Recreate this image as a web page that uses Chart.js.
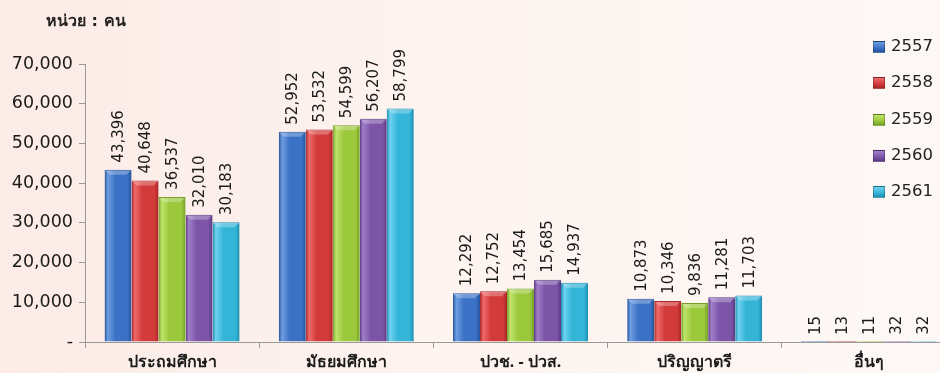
<!DOCTYPE html>
<html>
<head>
<meta charset="utf-8">
<script src="https://cdn.jsdelivr.net/npm/chart.js@4.4.0/dist/chart.umd.min.js"></script>
<style>
  html, body { margin: 0; padding: 0; overflow: hidden; }
  body {
    width: 940px; height: 373px;
    background: linear-gradient(to right, #fcebe6 0%, #fdf3ef 45%, #fdf8f6 100%);
    font-family: "DejaVu Sans", sans-serif;
    position: relative;
  }
  #wrap { position: absolute; left: 0; top: 0; width: 960px; height: 373px; }
  #unit {
    position: absolute; left: 46px; top: 8px;
    font: bold 16px "DejaVu Sans", "Noto Sans", sans-serif; color: #222;
  }
  #legend { position: absolute; left: 873px; top: 36px; }
  .item { height: 36.3px; display: flex; align-items: flex-start; font-size: 16.5px; color: #222; }
  .box { width: 10px; height: 10px; margin: 5px 6px 0 0; border: 1px solid rgba(0,0,0,0.25); }
</style>
</head>
<body>
<div id="wrap"><canvas id="chart" width="960" height="373"></canvas></div>
<div id="unit">หน่วย : คน</div>
<div id="legend"></div>
<script>
// หมวดการศึกษา
const categories = ['ประถมศึกษา', 'มัธยมศึกษา', 'ปวช. - ปวส.', 'ปริญญาตรี', 'อื่นๆ'];
const years = ['2557', '2558', '2559', '2560', '2561'];

// จำนวนคน ต่อปี
const y2557 = [43396, 52952, 12292, 10873, 15];
const y2558 = [40648, 53532, 12752, 10346, 13];
const y2559 = [36537, 54599, 13454, 9836, 11];
const y2560 = [32010, 56207, 15685, 11281, 32];
const y2561 = [30183, 58799, 14937, 11703, 32];

const yTicks = [0, 10000, 20000, 30000, 40000, 50000, 60000, 70000];

const colors = ['#3b72c6', '#d33a3a', '#9cc83c', '#7c55a8', '#34b5d8'];
const darks  = ['#24529a', '#a82626', '#74a02a', '#5a3a82', '#1f8db0'];
const lights = ['#6e9ee0', '#ef6a6a', '#bfe46a', '#a07fc8', '#6fd2ef'];

function barGradient(i) {
    return function(context) {
        const chart = context.chart;
        const el = context.element;
        if (!el || !chart.chartArea || !isFinite(el.x) || !isFinite(el.width)) return colors[i];
        const w = el.width;
        const x0 = el.x - w / 2;
        const g = chart.ctx.createLinearGradient(x0, 0, x0 + w, 0);
        g.addColorStop(0, darks[i]);
        g.addColorStop(0.12, lights[i]);
        g.addColorStop(0.4, colors[i]);
        g.addColorStop(0.85, colors[i]);
        g.addColorStop(1, darks[i]);
        return g;
    };
}

const seriesData = [y2557, y2558, y2559, y2560, y2561];

// ป้ายตัวเลขแนวตั้งเหนือแท่ง + แถบสว่างด้านบนของแท่ง
const valueLabels = {
    id: 'valueLabels',
    afterDatasetsDraw(chart) {
        const ctx = chart.ctx;
        ctx.save();
        chart.data.datasets.forEach((ds, di) => {
            chart.getDatasetMeta(di).data.forEach((bar) => {
                const h = bar.base - bar.y;
                if (h < 6) return;
                const x0 = bar.x - bar.width / 2;
                ctx.fillStyle = 'rgba(255,255,255,0.28)';
                ctx.beginPath();
                ctx.moveTo(x0 + 1, bar.y + 1);
                ctx.lineTo(x0 + bar.width - 1, bar.y + 1);
                ctx.lineTo(x0 + bar.width - 5, bar.y + 5);
                ctx.lineTo(x0 + 5, bar.y + 5);
                ctx.closePath();
                ctx.fill();
            });
        });
        ctx.font = '15px "DejaVu Sans", sans-serif';
        ctx.fillStyle = '#1a1a1a';
        ctx.textAlign = 'left';
        ctx.textBaseline = 'middle';
        chart.data.datasets.forEach((ds, di) => {
            chart.getDatasetMeta(di).data.forEach((bar, i) => {
                ctx.save();
                ctx.translate(bar.x, bar.y - 7);
                ctx.rotate(-Math.PI / 2);
                ctx.fillText(ds.data[i].toLocaleString('en-US'), 0, 1);
                ctx.restore();
            });
        });
        ctx.restore();
    }
};

const chart = new Chart(document.getElementById('chart'), {
    type: 'bar',
    data: {
        labels: categories,
        datasets: years.map((yr, i) => ({
            label: yr,
            data: seriesData[i],
            backgroundColor: barGradient(i),
            borderColor: darks[i],
            borderWidth: { top: 1, left: 0, right: 0, bottom: 0 },
            categoryPercentage: 0.775,
            barPercentage: 1
        }))
    },
    options: {
        responsive: false,
        animation: false,
        layout: { padding: { top: 64, right: 4, bottom: 0, left: 0 } },
        plugins: {
            legend: { display: false },
            tooltip: { enabled: false }
        },
        scales: {
            x: {
                afterFit(scale) { scale.height = 31; },
                grid: {
                    display: true,
                    drawOnChartArea: false,
                    offset: true,
                    tickLength: 6,
                    color: '#999'
                },
                border: { color: '#999' },
                ticks: {
                    color: '#1a1a1a',
                    font: { family: '"Noto Sans", "DejaVu Sans", sans-serif', size: 16, weight: 'bold' },
                    padding: 5
                }
            },
            y: {
                min: 0,
                max: 70000,
                afterFit(scale) { scale.width = 85; },
                afterBuildTicks(scale) { scale.ticks = yTicks.map(v => ({ value: v })); },
                grid: {
                    display: true,
                    drawOnChartArea: false,
                    tickLength: 6,
                    color: '#999'
                },
                border: { color: '#999' },
                ticks: {
                    color: '#1a1a1a',
                    font: { family: '"DejaVu Sans", sans-serif', size: 17.5 },
                    padding: 6,
                    callback: v => v === 0 ? '-' : v.toLocaleString('en-US')
                }
            }
        }
    },
    plugins: [valueLabels]
});
// อัปเดตอีกครั้งเพื่อให้ gradient รู้ตำแหน่งแท่ง
chart.update('none');

// คำอธิบายสัญลักษณ์
const legend = document.getElementById('legend');
years.forEach((yr, i) => {
    const row = document.createElement('div');
    row.className = 'item';
    row.innerHTML = '<span class="box" style="background:linear-gradient(' + lights[i] + ',' + colors[i] + ' 60%,' + darks[i] + ')"></span>' + yr;
    legend.appendChild(row);
});
</script>
</body>
</html>
